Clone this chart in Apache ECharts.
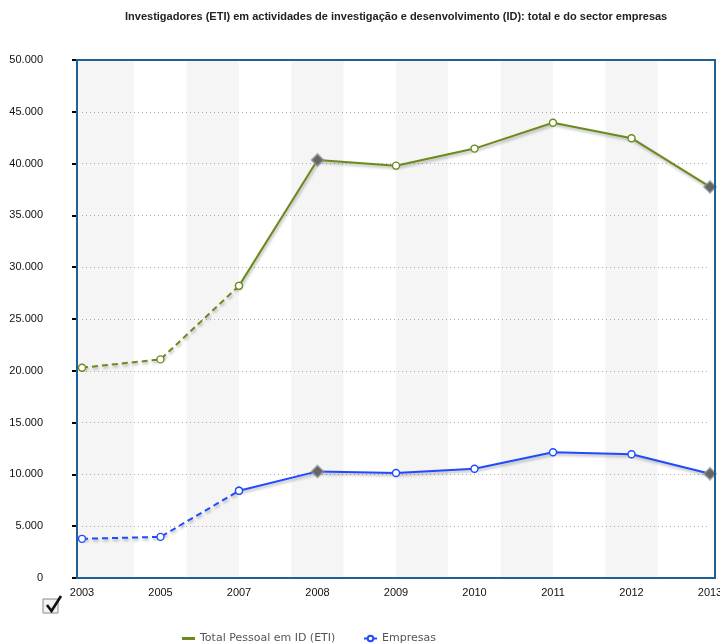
<!DOCTYPE html>
<html>
<head>
<meta charset="utf-8">
<script src="https://cdn.jsdelivr.net/npm/echarts@6/dist/echarts.min.js"></script>
<style>
html,body{margin:0;padding:0;background:#fff;}
#chart{width:720px;height:643px;}
</style>
</head>
<body>
<div id="chart"></div>
<script>
// ---- data ----
var categories = ['2003','2005','2007','2008','2009','2010','2011','2012','2013'];
var totalValues = [20300, 21100, 28200, 40350, 39800, 41450, 43950, 42450, 37750];
var empresasValues = [3780, 3970, 8420, 10290, 10130, 10540, 12140, 11950, 10060];
var seriesNames = ['Total Pessoal em ID (ETI)', 'Empresas'];
var diamondYears = ['2008', '2013'];   // points marked with a grey diamond
var dashedUntil = '2007';              // line is dashed up to this year
var titleText = 'Investigadores (ETI) em actividades de investigação e desenvolvimento (ID): total e do sector empresas';

var GREEN = '#6a8a1c';
var BLUE = '#1f4bff';

function buildPoints(values, part) {
  var cut = categories.indexOf(dashedUntil);
  return values.map(function (v, i) {
    if (part === 'dashed' && i > cut) return null;
    if (part === 'solid' && i < cut) return null;
    if (diamondYears.indexOf(categories[i]) >= 0) {
      return {
        value: v,
        symbol: 'diamond',
        symbolSize: 12,
        itemStyle: { color: '#666666', borderColor: 'rgba(150,150,150,0.55)', borderWidth: 2 }
      };
    }
    return { value: v };
  });
}

function makeSeries(name, values, color, part) {
  return {
    name: name,
    type: 'line',
    xAxisIndex: 1,
    yAxisIndex: 1,
    data: buildPoints(values, part),
    symbol: 'circle',
    symbolSize: 7,
    showAllSymbol: true,
    connectNulls: false,
    animation: false,
    z: part === 'solid' ? 3 : 2,
    itemStyle: { color: '#ffffff', borderColor: color, borderWidth: 1.4 },
    lineStyle: {
      color: color,
      width: 2,
      type: part === 'dashed' ? [6, 4] : 'solid',
      shadowColor: 'rgba(0,0,0,0.3)',
      shadowBlur: 3,
      shadowOffsetX: 1,
      shadowOffsetY: 2
    }
  };
}

var chart = echarts.init(document.getElementById('chart'), null, { renderer: 'canvas' });

var padGradient = new echarts.graphic.LinearGradient(0, 0, 1, 0, [
  { offset: 0, color: '#f5f5f5' }, { offset: 0.0078, color: '#f5f5f5' },
  { offset: 0.0079, color: '#ffffff' }, { offset: 1, color: '#ffffff' }
]);

var option = {
  backgroundColor: '#ffffff',
  animation: false,
  title: {
    text: titleText,
    left: 120,
    top: 6,
    textStyle: { fontFamily: 'Liberation Sans, Arial, sans-serif', fontSize: 11, fontWeight: 'bold', color: '#222' }
  },
  grid: [
    { left: 77, right: 5, top: 60, bottom: 65, show: true, borderWidth: 0,
      backgroundColor: padGradient, z: 0, outerBoundsMode: 'none', containLabel: false },
    { left: 82, right: 10, top: 60, bottom: 65, show: false, outerBoundsMode: 'none', containLabel: false },
    { left: 77, right: 5, top: 60, bottom: 65, show: true, borderColor: '#1d6196', borderWidth: 2,
      backgroundColor: 'transparent', z: 5, outerBoundsMode: 'none', containLabel: false }
  ],
  xAxis: [
    { type: 'value', gridIndex: 0, min: 0, max: 1, show: false },
    { type: 'category', gridIndex: 1, data: categories, boundaryGap: false,
      axisLine: { show: false }, axisTick: { show: false }, splitLine: { show: false },
      axisLabel: { interval: 0, margin: 9, hideOverlap: false,
        fontFamily: 'Liberation Sans, Arial, sans-serif', fontSize: 11, color: '#111' } },
    { type: 'value', gridIndex: 1, min: 0, max: 12, interval: 1, position: 'top', z: 1,
      axisLine: { show: false }, axisTick: { show: false }, axisLabel: { show: false },
      splitLine: { show: false },
      splitArea: { show: true, areaStyle: { color: ['#f5f5f5', '#ffffff'] } } },
    { type: 'value', gridIndex: 2, min: 0, max: 1, show: false }
  ],
  yAxis: [
    { type: 'value', gridIndex: 0, min: 0, max: 50000, interval: 5000, position: 'left', offset: 28,
      axisLine: { show: true, lineStyle: { color: '#000', width: 2 } },
      axisTick: { show: true, length: 5, lineStyle: { color: '#000', width: 2 } },
      splitLine: { show: false },
      axisLabel: { margin: 6, fontFamily: 'Liberation Sans, Arial, sans-serif', fontSize: 11, color: '#111',
        formatter: function (v) { return v === 0 ? '0' : v.toLocaleString('de-DE'); } } },
    { type: 'value', gridIndex: 1, min: 0, max: 50000, interval: 5000, z: 1.5,
      axisLine: { show: false }, axisTick: { show: false }, axisLabel: { show: false },
      splitLine: { show: true, lineStyle: { color: '#aaaaaa', type: [1, 3], width: 1 } } },
    { type: 'value', gridIndex: 2, min: 0, max: 1, show: false }
  ],
  legend: [
    { data: [{ name: seriesNames[0], icon: 'rect', itemStyle: { color: GREEN, borderWidth: 0 } }],
      left: 177, top: 628, itemWidth: 13, itemHeight: 3, selectedMode: false,
      textStyle: { fontFamily: 'DejaVu Sans, Verdana, sans-serif', fontSize: 11, color: '#555' } },
    { data: [seriesNames[1]], left: 358, top: 628, itemWidth: 13, itemHeight: 7, selectedMode: false,
      textStyle: { fontFamily: 'DejaVu Sans, Verdana, sans-serif', fontSize: 11, color: '#555' } }
  ],
  graphic: [
    { type: 'group', x: 42, y: 594, children: [
      { type: 'rect', shape: { x: 1, y: 5, width: 15, height: 14 },
        style: { fill: '#f3f3f3', stroke: '#888', lineWidth: 1 } },
      { type: 'polyline', shape: { points: [[5, 11], [9.5, 17], [19, 2]] },
        style: { stroke: '#111', lineWidth: 2.6, fill: null, lineJoin: 'miter' } }
    ] }
  ],
  series: [
    makeSeries(seriesNames[0], totalValues, GREEN, 'solid'),
    makeSeries(seriesNames[0], totalValues, GREEN, 'dashed'),
    makeSeries(seriesNames[1], empresasValues, BLUE, 'solid'),
    makeSeries(seriesNames[1], empresasValues, BLUE, 'dashed')
  ]
};
chart.setOption(option);
</script>
</body>
</html>
